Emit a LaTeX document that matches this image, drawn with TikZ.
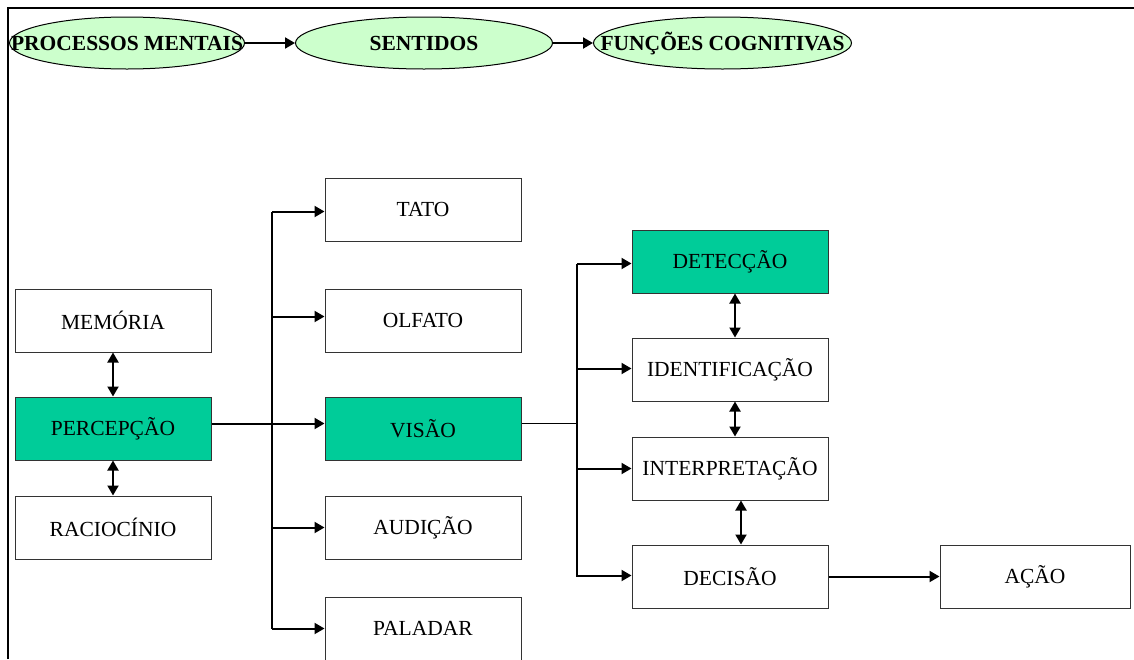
\documentclass[tikz,border=0pt]{standalone}
\usepackage{fontspec}
\setmainfont{Liberation Serif}
\usetikzlibrary{shapes.geometric, positioning, calc, arrows.meta}
\definecolor{pcGreen}{RGB}{0,204,153}
\definecolor{pcPale}{RGB}{204,255,204}

\begin{document}
\begin{tikzpicture}[
      x=1pt, y=-1pt,
      box/.style={draw=black!80, line width=1pt, minimum width=196pt, minimum height=63pt, inner sep=0pt, fill=white, font=\fontsize{21.5}{25}\selectfont},
      topic/.style={ellipse, draw, line width=1pt, fill=pcPale, minimum width=#1, minimum height=52pt, inner sep=0pt, font=\fontsize{21.5}{25}\selectfont\bfseries},
      arr/.style={-{Triangle[length=10pt,width=11pt]}, line width=2pt},
      both/.style={{Triangle[length=10pt,width=11pt]}-{Triangle[length=10pt,width=11pt]}, line width=2pt},
      bus/.style={line width=1.2pt},
      node distance=44pt and 113pt
    ]
      \useasboundingbox (0,0) rectangle (1134,659);
      \draw[line width=2pt] (8,659) -- (8,8) -- (1134,8);

      \node[topic=235pt] (processos) at (127,43) {\makebox[0pt]{PROCESSOS MENTAIS}};
      \node[topic=257pt, right=50pt of processos] (sentidos) {\makebox[0pt]{SENTIDOS}};
      \node[topic=258pt, right=40pt of sentidos] (funcoes) {\makebox[0pt]{FUNÇÕES COGNITIVAS}};

      \node[box] (memoria) at (113,320.5) {MEMÓRIA};
      \node[box, fill=pcGreen, below=of memoria] (percepcao) {PERCEPÇÃO};
      \node[box, below=35pt of percepcao] (raciocinio) {RACIOCÍNIO};

      \node[box, fill=pcGreen, right=of percepcao] (visao) {VISÃO};
      \node[box, above=of visao] (olfato) {OLFATO};
      \node[box, above=47pt of olfato] (tato) {TATO};
      \node[box, below=35pt of visao] (audicao) {AUDIÇÃO};
      \node[box, below=37pt of audicao] (paladar) {PALADAR};

      \node[box, fill=pcGreen] (deteccao) at (730,261.5) {DETECÇÃO};
      \node[box, below=of deteccao] (identificacao) {IDENTIFICAÇÃO};
      \node[box, below=35pt of identificacao] (interpretacao) {INTERPRETAÇÃO};
      \node[box, below=of interpretacao] (decisao) {DECISÃO};
      \node[box, minimum width=190pt, right=111pt of decisao] (acao) {AÇÃO};

      \coordinate (busL) at (272,0);
      \coordinate (busR) at (577,0);

      \draw[arr] (processos) -- (sentidos);
      \draw[arr] (sentidos) -- (funcoes);

      \draw[both] (memoria) -- (percepcao);
      \draw[both] (percepcao) -- (raciocinio);
      \draw[arr] ([yshift=5pt]percepcao.east) -- ([yshift=5pt]visao.west);

      % sentidos
      \draw[bus] ([yshift=-2pt]tato.west -| busL) -- (paladar.west -| busL);
      \foreach \n/\dy in {tato/-2, olfato/4, audicao/0, paladar/0}
        \draw[arr] ([yshift=\dy pt]\n.west -| busL) -- ([yshift=\dy pt]\n.west);

      % funcoes cognitivas
      \draw[bus] ([yshift=5pt]visao.east) -- ([yshift=5pt]visao.east -| busR);
      \draw[bus] ([yshift=-2pt]deteccao.west -| busR) -- (decisao.west -| busR);
      \foreach \n/\dy in {deteccao/-2, identificacao/1, interpretacao/0, decisao/1}
        \draw[arr] ([yshift=\dy pt]\n.west -| busR) -- ([yshift=\dy pt]\n.west);

      \draw[both] ([xshift=5pt]deteccao.south) -- ([xshift=5pt]identificacao.north);
      \draw[both] ([xshift=5pt]identificacao.south) -- ([xshift=5pt]interpretacao.north);
      \draw[both] ([xshift=11pt]interpretacao.south) -- ([xshift=11pt]decisao.north);
      \draw[arr] (decisao) -- (acao);
    \end{tikzpicture}
\end{document}
